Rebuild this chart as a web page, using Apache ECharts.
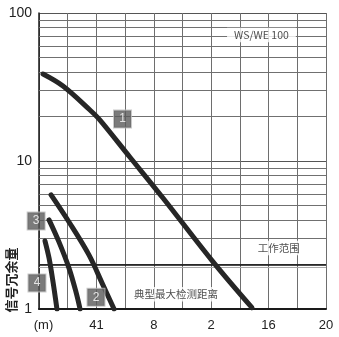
<!DOCTYPE html>
<html><head><meta charset="utf-8">
<script src="https://cdn.jsdelivr.net/npm/echarts@6/dist/echarts.min.js"></script>
<style>html,body{margin:0;padding:0;background:#fff}#c{width:339px;height:337px}</style>
</head><body><div id="c"></div>
<script>
// ---- data ----
const xTickValues = [0, 4, 8, 12, 16, 20];
const xTickLabels = ['(m)', '41', '8', '2', '16', '20'];
const yTickValues = [1, 10, 100];
const yTickLabels = ['1', '10', '100'];
const yMinorLines = [2, 3, 4, 5, 6, 7, 8, 9, 20, 30, 40, 50, 60, 70, 80, 90];
const rangeLine = 2;        // 工作范围 threshold
const rangeLine2 = 1.92;    // faint companion line
const curve1 = [[0.28,38.7],[1.67,32.1],[3.55,22.1],[4.25,18.9],[6.34,10.6],[8.64,5.62],[12.13,2.08],[14.84,1.02]];
const curve2 = [[0.84,5.9],[2.09,3.87],[3.48,2.32],[4.46,1.45],[5.23,1.0]];
const curve3 = [[0.70,4.0],[1.39,2.84],[2.09,1.89],[2.58,1.30],[2.86,1.0]];
const curve4 = [[0.42,2.88],[0.70,2.21],[0.98,1.52],[1.25,1.0]];
const boxNames = ['1', '2', '3', '4'];
const boxPos = [[5.82,19.2],[3.97,1.2],[-0.2,3.93],[-0.14,1.5]];
const noteNames = ['WS/WE 100', '工作范围', '典型最大检测距离'];
const notePos = [[15.5,71],[16.7,2.58],[9.55,1.26]];
const yTitle = '信号冗余量';

const font = 'Liberation Sans';
const cjk = 'Noto Sans CJK SC';
const curveStyle = { color: '#262626', width: 5, cap: 'round', join: 'round' };
function curve(d) {
  return { type: 'line', data: d, smooth: 0.35, symbol: 'none', lineStyle: curveStyle, z: 5, silent: true };
}
const chart = echarts.init(document.getElementById('c'), null, { renderer: 'canvas' });
chart.setOption({
  animation: false,
  backgroundColor: '#fff',
  grid: { left: 39, right: 13, top: 13, bottom: 28 },
  xAxis: {
    type: 'value', min: 0, max: 20, interval: 2,
    axisLine: { show: true, lineStyle: { color: '#1a1a1a', width: 2 } },
    axisTick: { show: false },
    splitLine: { show: true, lineStyle: { color: '#6e6e6e', width: 1 } },
    axisLabel: {
      color: '#222', fontFamily: font, fontSize: 13, margin: 10,
      rich: { m: { color: '#222', fontFamily: font, fontSize: 13, padding: [0, 0, 0, 9] } },
      formatter: v => {
        const i = xTickValues.indexOf(v);
        if (i < 0) return '';
        return i === 0 ? '{m|' + xTickLabels[i] + '}' : xTickLabels[i];
      }
    }
  },
  yAxis: {
    type: 'log', logBase: 10, min: 1, max: 100,
    axisLine: { show: true, lineStyle: { color: '#1a1a1a', width: 1.5 } },
    axisTick: { show: false },
    splitLine: { show: true, lineStyle: { color: '#555', width: 1 } },
    axisLabel: {
      color: '#222', fontFamily: font, fontSize: 14, margin: 7,
      formatter: v => { const i = yTickValues.indexOf(Math.round(v)); return i >= 0 ? yTickLabels[i] : ''; }
    }
  },
  series: [
    Object.assign(curve(curve1), {
      markLine: {
        silent: true, symbol: 'none', animation: false, label: { show: false },
        data: yMinorLines.map(v => ({ yAxis: v, lineStyle: { color: '#707070', width: 1, type: 'solid' } }))
          .concat([{ yAxis: rangeLine2, lineStyle: { color: '#aaa', width: 1, type: 'solid' } },
                   { yAxis: rangeLine, lineStyle: { color: '#111', width: 1.6, type: 'solid' } }])
      }
    }),
    curve(curve2), curve(curve3), curve(curve4),
    {
      type: 'scatter', symbolSize: 0, clip: false, z: 8, silent: true,
      data: noteNames.map((n, i) => ({ name: n, value: notePos[i] })),
      label: {
        show: true, position: 'inside', formatter: p => p.name,
        color: '#222', fontFamily: cjk, fontSize: 10.5,
        backgroundColor: '#fff', padding: [2, 7]
      }
    },
    {
      type: 'scatter', symbolSize: 0, clip: false, z: 9, silent: true,
      data: boxNames.map((n, i) => ({ name: n, value: boxPos[i] })),
      label: {
        show: true, position: 'inside', formatter: p => p.name,
        color: '#fff', fontFamily: font, fontSize: 12,
        backgroundColor: '#5a5a5a', borderColor: '#bbb', borderWidth: 1,
        width: 17, height: 17, lineHeight: 17, align: 'center', verticalAlign: 'middle'
      }
    }
  ],
  graphic: [{
    type: 'text', x: 11, y: 280, rotation: Math.PI / 2,
    style: { text: yTitle, fontFamily: cjk, fontSize: 13, fontWeight: 'bold', fill: '#222', align: 'center', verticalAlign: 'middle' }
  }]
});
</script></body></html>
